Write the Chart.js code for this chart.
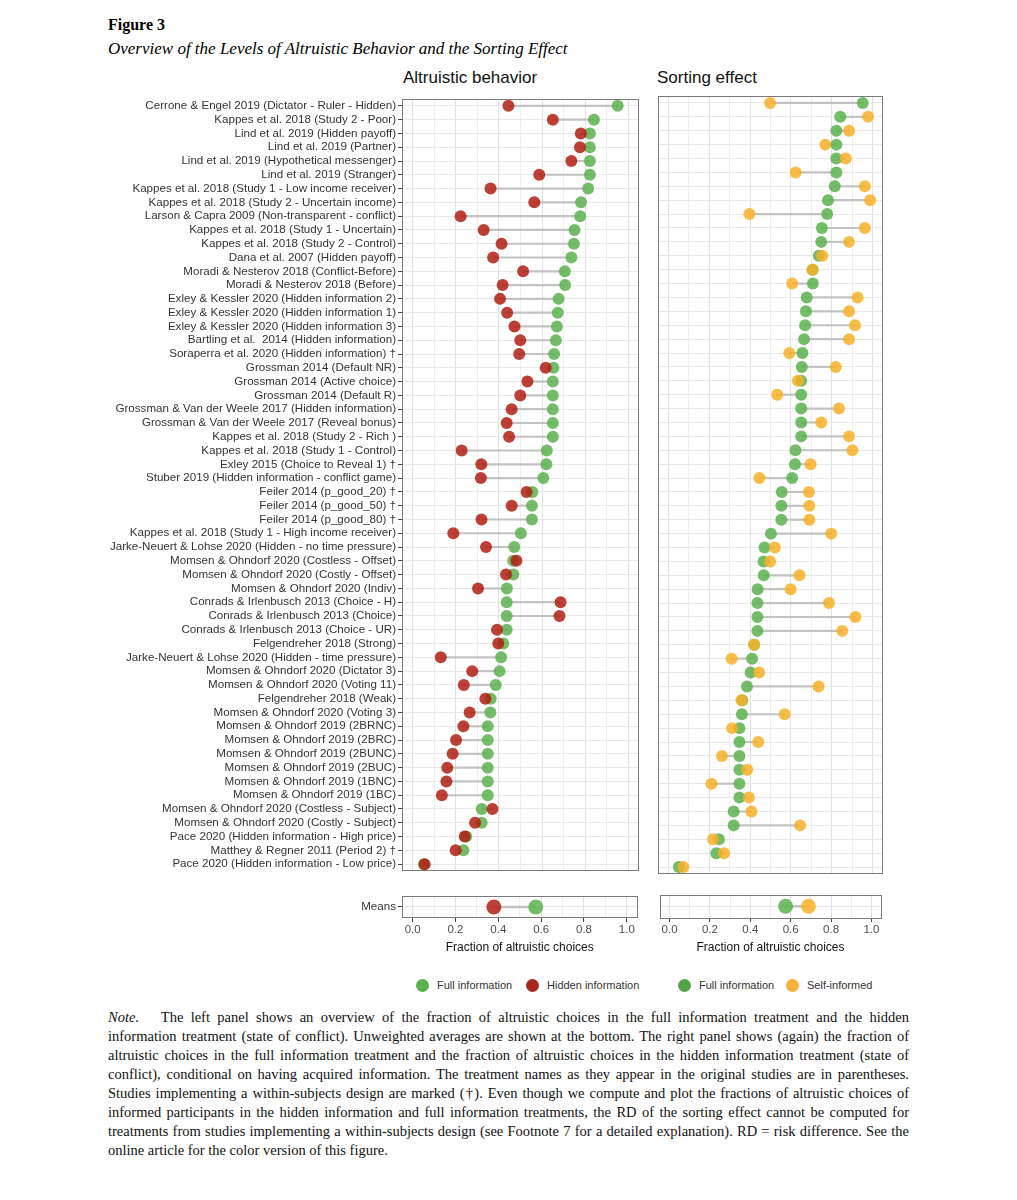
<!DOCTYPE html>
<html><head><meta charset="utf-8">
<script src="https://cdn.jsdelivr.net/npm/chart.js@4.4.1/dist/chart.umd.min.js"></script>
<style>
body{margin:0;background:#fff;width:1017px;height:1200px;position:relative;font-family:"Liberation Sans",Arial,sans-serif;color:#000;}
.abs{position:absolute;white-space:nowrap;}
canvas{display:block;}
.ttl{font-family:"Liberation Serif","Times New Roman",serif;}
.panelT{font-size:17px;line-height:20px;color:#111;}
.leg{font-size:11px;color:#333;line-height:14px;}
.dot{position:absolute;width:13px;height:13px;border-radius:50%;}
.note{font-family:"Liberation Serif","Times New Roman",serif;font-size:14.5px;line-height:19px;position:absolute;left:108px;width:801px;color:#111;}
.note div{text-align:justify;text-align-last:justify;white-space:normal;}
.note div.last{text-align-last:left;}
</style></head><body>

<div class="abs ttl" style="left:108px;top:16px;font-size:16px;font-weight:bold;line-height:18px;">Figure 3</div>
<div class="abs ttl" style="left:108px;top:39px;font-size:17px;font-style:italic;line-height:19px;">Overview of the Levels of Altruistic Behavior and the Sorting Effect</div>

<div class="abs panelT" style="left:403px;top:68px;">Altruistic behavior</div>
<div class="abs panelT" style="left:657px;top:68px;">Sorting effect</div>

<div class="abs" style="left:100px;top:90px;width:545px;height:790px;"><canvas id="leftMain" width="545" height="790"></canvas></div>
<div class="abs" style="left:652px;top:90px;width:237px;height:790px;"><canvas id="rightMain" width="237" height="790"></canvas></div>
<div class="abs" style="left:100px;top:887px;width:545px;height:75px;"><canvas id="leftMeans" width="545" height="75"></canvas></div>
<div class="abs" style="left:652px;top:887px;width:237px;height:75px;"><canvas id="rightMeans" width="237" height="75"></canvas></div>

<div id="legend"></div>

<div class="note" style="top:1008px;">
<div><i>Note.</i>&nbsp;&nbsp; The left panel shows an overview of the fraction of altruistic choices in the full information treatment and the hidden</div>
<div>information treatment (state of conflict). Unweighted averages are shown at the bottom. The right panel shows (again) the fraction of</div>
<div>altruistic choices in the full information treatment and the fraction of altruistic choices in the hidden information treatment (state of</div>
<div>conflict), conditional on having acquired information. The treatment names as they appear in the original studies are in parentheses.</div>
<div>Studies implementing a within-subjects design are marked (†). Even though we compute and plot the fractions of altruistic choices of</div>
<div>informed participants in the hidden information and full information treatments, the RD of the sorting effect cannot be computed for</div>
<div>treatments from studies implementing a within-subjects design (see Footnote 7 for a detailed explanation). RD = risk difference. See the</div>
<div class="last">online article for the color version of this figure.</div>
</div>

<script>
const categories = [
"Cerrone & Engel 2019 (Dictator - Ruler - Hidden)",
"Kappes et al. 2018 (Study 2 - Poor)",
"Lind et al. 2019 (Hidden payoff)",
"Lind et al. 2019 (Partner)",
"Lind et al. 2019 (Hypothetical messenger)",
"Lind et al. 2019 (Stranger)",
"Kappes et al. 2018 (Study 1 - Low income receiver)",
"Kappes et al. 2018 (Study 2 - Uncertain income)",
"Larson & Capra 2009 (Non-transparent - conflict)",
"Kappes et al. 2018 (Study 1 - Uncertain)",
"Kappes et al. 2018 (Study 2 - Control)",
"Dana et al. 2007 (Hidden payoff)",
"Moradi & Nesterov 2018 (Conflict-Before)",
"Moradi & Nesterov 2018 (Before)",
"Exley & Kessler 2020 (Hidden information 2)",
"Exley & Kessler 2020 (Hidden information 1)",
"Exley & Kessler 2020 (Hidden information 3)",
"Bartling et al.  2014 (Hidden information)",
"Soraperra et al. 2020 (Hidden information) †",
"Grossman 2014 (Default NR)",
"Grossman 2014 (Active choice)",
"Grossman 2014 (Default R)",
"Grossman & Van der Weele 2017 (Hidden information)",
"Grossman & Van der Weele 2017 (Reveal bonus)",
"Kappes et al. 2018 (Study 2 - Rich )",
"Kappes et al. 2018 (Study 1 - Control)",
"Exley 2015 (Choice to Reveal 1) †",
"Stuber 2019 (Hidden information - conflict game)",
"Feiler 2014 (p_good_20) †",
"Feiler 2014 (p_good_50) †",
"Feiler 2014 (p_good_80) †",
"Kappes et al. 2018 (Study 1 - High income receiver)",
"Jarke-Neuert & Lohse 2020 (Hidden - no time pressure)",
"Momsen & Ohndorf 2020 (Costless - Offset)",
"Momsen & Ohndorf 2020 (Costly - Offset)",
"Momsen & Ohndorf 2020 (Indiv)",
"Conrads & Irlenbusch 2013 (Choice - H)",
"Conrads & Irlenbusch 2013 (Choice)",
"Conrads & Irlenbusch 2013 (Choice - UR)",
"Felgendreher 2018 (Strong)",
"Jarke-Neuert & Lohse 2020 (Hidden - time pressure)",
"Momsen & Ohndorf 2020 (Dictator 3)",
"Momsen & Ohndorf 2020 (Voting 11)",
"Felgendreher 2018 (Weak)",
"Momsen & Ohndorf 2020 (Voting 3)",
"Momsen & Ohndorf 2019 (2BRNC)",
"Momsen & Ohndorf 2019 (2BRC)",
"Momsen & Ohndorf 2019 (2BUNC)",
"Momsen & Ohndorf 2019 (2BUC)",
"Momsen & Ohndorf 2019 (1BNC)",
"Momsen & Ohndorf 2019 (1BC)",
"Momsen & Ohndorf 2020 (Costless - Subject)",
"Momsen & Ohndorf 2020 (Costly - Subject)",
"Pace 2020 (Hidden information - High price)",
"Matthey & Regner 2011 (Period 2) †",
"Pace 2020 (Hidden information - Low price)"
];

const fullInfo = [
0.951,0.841,0.822,0.822,0.822,0.822,0.814,0.781,0.777,0.751,
0.748,0.736,0.706,0.707,0.677,0.673,0.669,0.664,0.656,0.653,
0.650,0.650,0.650,0.650,0.650,0.622,0.620,0.606,0.555,0.553,
0.553,0.502,0.471,0.466,0.467,0.437,0.436,0.436,0.436,0.420,
0.410,0.403,0.385,0.362,0.360,0.348,0.348,0.348,0.348,0.348,
0.348,0.320,0.320,0.248,0.235,0.052
];

const hiddenInfo = [
0.444,0.650,0.780,0.776,0.736,0.587,0.361,0.564,0.222,0.329,
0.412,0.373,0.512,0.417,0.405,0.438,0.472,0.499,0.494,0.617,
0.532,0.499,0.459,0.436,0.447,0.227,0.318,0.316,0.528,0.459,
0.319,0.188,0.340,0.481,0.433,0.303,0.686,0.681,0.391,0.397,
0.130,0.276,0.237,0.337,0.264,0.235,0.201,0.185,0.160,0.156,
0.135,0.370,0.289,0.241,0.199,0.055
];

const selfInformed = [
0.498,0.977,0.884,0.768,0.868,0.623,0.961,0.987,0.397,0.961,
0.884,0.753,0.705,0.606,0.926,0.884,0.913,0.884,0.592,0.819,
0.634,0.533,0.835,0.748,0.884,0.900,0.696,0.446,0.688,0.690,
0.690,0.797,0.521,0.498,0.642,0.598,0.786,0.915,0.851,0.420,
0.310,0.444,0.735,0.358,0.569,0.312,0.440,0.263,0.386,0.211,
0.394,0.407,0.645,0.219,0.273,0.074
];

const meanLabels = ["Means"];
const meanFull = [0.575];
const meanHidden = [0.379];
const meanSelf = [0.688];

const xGridValues = [0,0.1,0.2,0.3,0.4,0.5,0.6,0.7,0.8,0.9,1.0];
const xLabelValues = [0,0.2,0.4,0.6,0.8,1.0];

const GREEN = 'rgba(96,180,84,0.88)';
const RED = 'rgba(176,30,18,0.85)';
const ORANGE = 'rgba(248,176,40,0.85)';
const SEG = '#c2c2c2';

const isMajor = v => xLabelValues.some(m => Math.abs(m - v) < 1e-6);

const framePlugin = {
  id: 'frame',
  afterDraw(chart) {
    const {ctx, chartArea: a} = chart;
    ctx.save();
    ctx.strokeStyle = '#7a7a7a';
    ctx.lineWidth = 1;
    ctx.strokeRect(Math.round(a.left) + 0.5, Math.round(a.top) + 0.5,
      Math.round(a.right - a.left) - 1, Math.round(a.bottom - a.top) - 1);
    ctx.restore();
  }
};

function makePanel(id, cfg) {
  const labels = cfg.labels;
  const top = cfg.top, back = cfg.back;
  const segments = labels.map((_, i) => [Math.min(top[i], back[i]), Math.max(top[i], back[i])]);
  const r = cfg.means ? 7.5 : 6;
  const pt = (data, color) => ({
    type: 'line', indexAxis: 'y', data: data, showLine: false,
    pointRadius: r, pointHoverRadius: r, pointBorderWidth: 0,
    pointBackgroundColor: color, backgroundColor: color, borderColor: color
  });
  new Chart(document.getElementById(id), {
    type: 'bar',
    data: {
      labels: labels,
      datasets: [
        pt(top, cfg.topColor),
        pt(back, GREEN),
        { type: 'bar', data: segments, backgroundColor: SEG, barThickness: cfg.means ? 2 : 1.5,
          borderWidth: 0, borderSkipped: false }
      ]
    },
    options: {
      indexAxis: 'y',
      responsive: false,
      animation: false,
      events: [],
      layout: { padding: { top: 5, bottom: 5, right: 5, left: 0 } },
      plugins: { legend: { display: false }, tooltip: { enabled: false } },
      scales: {
        x: {
          type: 'linear', min: -0.05, max: 1.05,
          afterBuildTicks: a => { a.ticks = xGridValues.map(v => ({ value: v })); },
          afterFit: a => { a.height = cfg.means ? 39 : 0; },
          border: { display: false },
          grid: {
            color: c => (c.tick && isMajor(c.tick.value)) ? '#e0e0e0' : '#eeeeee',
            lineWidth: 1,
            drawTicks: cfg.means,
            tickLength: 4,
            tickColor: c => (c.tick && isMajor(c.tick.value)) ? '#444' : 'rgba(0,0,0,0)'
          },
          ticks: {
            display: cfg.means,
            autoSkip: false, maxRotation: 0, padding: 1,
            color: '#4d4d4d',
            font: { family: '"Liberation Sans", Arial, sans-serif', size: 11.5 },
            callback: v => isMajor(v) ? Number(v).toFixed(1) : ''
          },
          title: {
            display: cfg.means,
            text: 'Fraction of altruistic choices',
            color: '#111',
            padding: { top: 0, bottom: 2 },
            font: { family: '"Liberation Sans", Arial, sans-serif', size: 12 }
          }
        },
        y: {
          type: 'category', offset: true,
          afterFit: a => { a.width = cfg.yWidth; },
          border: { display: false },
          grid: {
            offset: false, color: '#e8e8e8', lineWidth: 1,
            drawTicks: cfg.showLabels, tickLength: 4, tickColor: '#444'
          },
          ticks: {
            display: cfg.showLabels, autoSkip: false, padding: 2,
            color: '#333',
            font: { family: '"Liberation Sans", Arial, sans-serif', size: 11.6 }
          }
        }
      }
    },
    plugins: [framePlugin]
  });
}

makePanel('leftMain', { labels: categories, top: hiddenInfo, back: fullInfo, topColor: RED, showLabels: true, yWidth: 302, means: false });
makePanel('rightMain', { labels: categories, top: selfInformed, back: fullInfo, topColor: ORANGE, showLabels: false, yWidth: 5, means: false });
makePanel('leftMeans', { labels: meanLabels, top: meanHidden, back: meanFull, topColor: RED, showLabels: true, yWidth: 302, means: true });
makePanel('rightMeans', { labels: meanLabels, top: meanSelf, back: meanFull, topColor: ORANGE, showLabels: false, yWidth: 5, means: true });

// legend (HTML)
const legendItems = [
  { x: 416, text: 'Full information', color: '#5cb050' },
  { x: 526, text: 'Hidden information', color: '#a8281c' },
  { x: 678, text: 'Full information', color: '#52a546' },
  { x: 786, text: 'Self-informed', color: '#f5b23a' }
];
const leg = document.getElementById('legend');
legendItems.forEach(it => {
  const d = document.createElement('div');
  d.className = 'dot';
  d.style.left = it.x + 'px'; d.style.top = '979px'; d.style.background = it.color;
  leg.appendChild(d);
  const t = document.createElement('div');
  t.className = 'abs leg';
  t.style.left = (it.x + 21) + 'px'; t.style.top = '978px';
  t.textContent = it.text;
  leg.appendChild(t);
});
</script>
</body></html>
